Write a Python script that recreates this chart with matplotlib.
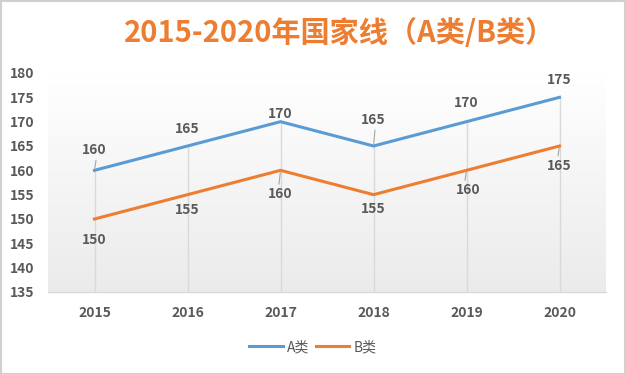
import matplotlib
matplotlib.use("Agg")
import matplotlib.pyplot as plt
import numpy as np
from matplotlib.patches import Rectangle
from matplotlib.colors import LinearSegmentedColormap

plt.rcParams['font.family'] = ['Noto Sans CJK SC', 'DejaVu Sans']

years = ['2015', '2016', '2017', '2018', '2019', '2020']
a_vals = [160, 165, 170, 165, 170, 175]
b_vals = [150, 155, 160, 155, 160, 165]
series_names = ['A类', 'B类']
title = '2015-2020年国家线（A类/B类）'
yticks = [135, 140, 145, 150, 155, 160, 165, 170, 175, 180]

blue = '#5B9BD5'
orange = '#ED7D31'
gray_txt = '#595959'

W, H = 626, 374
fig = plt.figure(figsize=(W / 100, H / 100), dpi=100)
fig.patch.set_facecolor('white')

# plot area in pixels: x 48..606, y 73..292
ax = fig.add_axes([48 / W, 1 - 292 / H, (606 - 48) / W, (292 - 73) / H])
ax.set_facecolor('none')

grad = np.linspace(0, 1, 256).reshape(-1, 1)
cmap = LinearSegmentedColormap.from_list('g', ['#ffffff', '#ebebeb'])
ax.imshow(grad, cmap=cmap, aspect='auto', extent=[0, 1, 0, 1],
          transform=ax.transAxes, origin='upper', zorder=0)

x = np.arange(len(years))
ymin = 135
# drop lines from the upper series down to the axis
ax.vlines(x, ymin, [max(a, b) for a, b in zip(a_vals, b_vals)],
          color='#d9d9d9', lw=1.0, zorder=1)

ax.plot(x, a_vals, color=blue, lw=2.2, label=series_names[0], zorder=3)
ax.plot(x, b_vals, color=orange, lw=2.2, label=series_names[1], zorder=3)

ax.set_xlim(-0.5, len(years) - 0.5)
ax.set_ylim(ymin, 180)
ax.set_yticks(yticks)
ax.set_xticks(x)
ax.set_xticklabels(years)
ax.tick_params(axis='both', length=0, labelsize=10, colors=gray_txt)
ax.tick_params(axis='y', pad=10)
ax.tick_params(axis='x', pad=10)
for lab in ax.get_xticklabels() + ax.get_yticklabels():
    lab.set_fontweight('bold')

for s in ['top', 'right', 'left']:
    ax.spines[s].set_visible(False)
ax.spines['bottom'].set_color('#d9d9d9')
ax.spines['bottom'].set_linewidth(1.0)

# data label offsets (pixels, label centre relative to point; +y is up)
a_off = [20, 17, 8, 26, 19, 17]
b_off = [-21, -15, -24, -14, -20, -20]
a_leader = [True, False, False, True, False, False]
b_leader = [False, False, True, False, True, True]
a_dx = [0, 0, 0, 0, 0, 0]
b_dx = [0, 0, 0, 0, 2, 0]

def put_labels(vals, offs, dxs, leaders):
    for xi, v, dy, dx, ld in zip(x, vals, offs, dxs, leaders):
        ax.annotate(str(v), (xi, v), xytext=(dx * 0.72, dy * 0.72),
                    textcoords='offset points', ha='center', va='center',
                    fontsize=10, fontweight='bold', color=gray_txt, zorder=5)
        if ld:
            sgn = 1 if dy > 0 else -1
            L = abs(dy) - 10
            ax.annotate('', (xi, v), xytext=(sgn * 1.5 * 0.72, sgn * L * 0.72),
                        textcoords='offset points',
                        arrowprops=dict(arrowstyle='-', color='#a6a6a6', lw=0.8,
                                        shrinkA=0, shrinkB=1), zorder=4)

put_labels(a_vals, a_off, a_dx, a_leader)
put_labels(b_vals, b_off, b_dx, b_leader)

fig.text(340 / W, 1 - 33 / H, title, ha='center', va='center', fontsize=21,
         fontweight='bold', color=orange)

leg = fig.legend(loc='center', bbox_to_anchor=(313 / W, 1 - 347 / H), ncol=2,
                 frameon=False, fontsize=10, handlelength=2.4, columnspacing=0.5,
                 handletextpad=0.3)
for t in leg.get_texts():
    t.set_color(gray_txt)

fig.patches.append(Rectangle((0.5 / W, 0.5 / H), 1 - 1.5 / W, 1 - 1.5 / H,
                             transform=fig.transFigure, fill=False,
                             edgecolor='#d0d0d0', lw=1.5))

fig.savefig('out.png', dpi=100)
